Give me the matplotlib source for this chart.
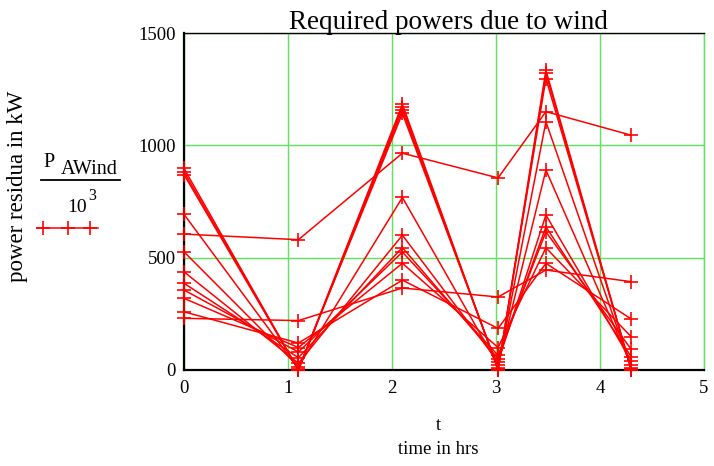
import matplotlib.pyplot as plt

plt.rcParams['font.family'] = 'Liberation Serif'

# sample times (hrs)
t_hrs = [0, 1.1, 2.1, 3.02, 3.48, 4.3]

# P_AWind / 10^3 for each wind case (kW)
case_1 = [897, 0, 1183, 0, 1334, 0]
case_2 = [882, 0, 1171, 0, 1320, 0]
case_3 = [870, 0, 1157, 5, 1297, 5]
case_4 = [693, 5, 1142, 10, 1105, 8]
case_5 = [526, 15, 768, 22, 890, 22]
case_6 = [437, 30, 600, 37, 690, 41]
case_7 = [386, 55, 545, 50, 637, 59]
case_8 = [356, 80, 525, 65, 615, 92]
case_9 = [319, 100, 475, 100, 544, 148]
case_10 = [259, 120, 400, 185, 475, 227]
case_11 = [605, 580, 965, 855, 1150, 1045]
case_12 = [230, 220, 365, 325, 445, 393]

cases = [case_1, case_2, case_3, case_4, case_5, case_6,
         case_7, case_8, case_9, case_10, case_11, case_12]

xticks = [0, 1, 2, 3, 4, 5]
yticks = [0, 500, 1000, 1500]

grid_green = '#5ee35e'
red = '#ff0000'

fig = plt.figure(figsize=(7.14, 4.66), dpi=100)
ax = fig.add_axes([184/714, 1-370/466, 520/714, 337/466])

for p in cases:
    ax.plot(t_hrs, p, color=red, lw=1.1, marker='+', ms=9.5, mew=1.2,
            clip_on=False, zorder=3)

ax.set_xlim(0, 5)
ax.set_ylim(0, 1500)
ax.set_xticks(xticks)
ax.set_yticks(yticks)
ax.tick_params(length=0, labelsize=13.5, pad=6)
ax.tick_params(axis='x', pad=7)
ax.grid(True, color=grid_green, lw=1)
ax.set_axisbelow(True)

for side in ['left', 'bottom']:
    ax.spines[side].set_color('black')
    ax.spines[side].set_linewidth(1.6)
ax.spines['top'].set_color('black')
ax.spines['top'].set_linewidth(1)
ax.spines['right'].set_color(grid_green)
ax.spines['right'].set_linewidth(1)

fig.text(448/714, 1-29/466, 'Required powers due to wind', ha='center',
         va='baseline', fontsize=19.5)

fig.text(18/714, 1-186/466, 'power residua in kW', rotation=90,
         ha='center', va='center', fontsize=16.5)

fig.text(438/714, 1-425/466, 't', ha='center', va='center', fontsize=13.5)
fig.text(438/714, 1-450/466, 'time in hrs', ha='center', va='center',
         fontsize=13.5)

# legend entry: P_AWind / 10^3 with its line style
fig.text(43/714, 1-167/466, 'P', ha='left', va='baseline', fontsize=14.5)
fig.text(61/714, 1-174/466, 'AWind', ha='left', va='baseline', fontsize=14.5)
fig.add_artist(plt.Line2D([41/714, 120/714], [1-180/466, 1-180/466],
                          color='black', lw=1.3))
fig.text(67/714, 1-212/466, '10', ha='left', va='baseline', fontsize=14)
fig.text(88/714, 1-200/466, '3', ha='left', va='baseline', fontsize=11.5)
fig.add_artist(plt.Line2D([37/714, 43/714, 68/714, 90/714, 98/714],
                          [1-228/466] * 5, color=red, lw=1.1,
                          marker='+', ms=9.5, mew=1.2, markevery=[1, 2, 3]))

fig.savefig('out.png', dpi=100)
